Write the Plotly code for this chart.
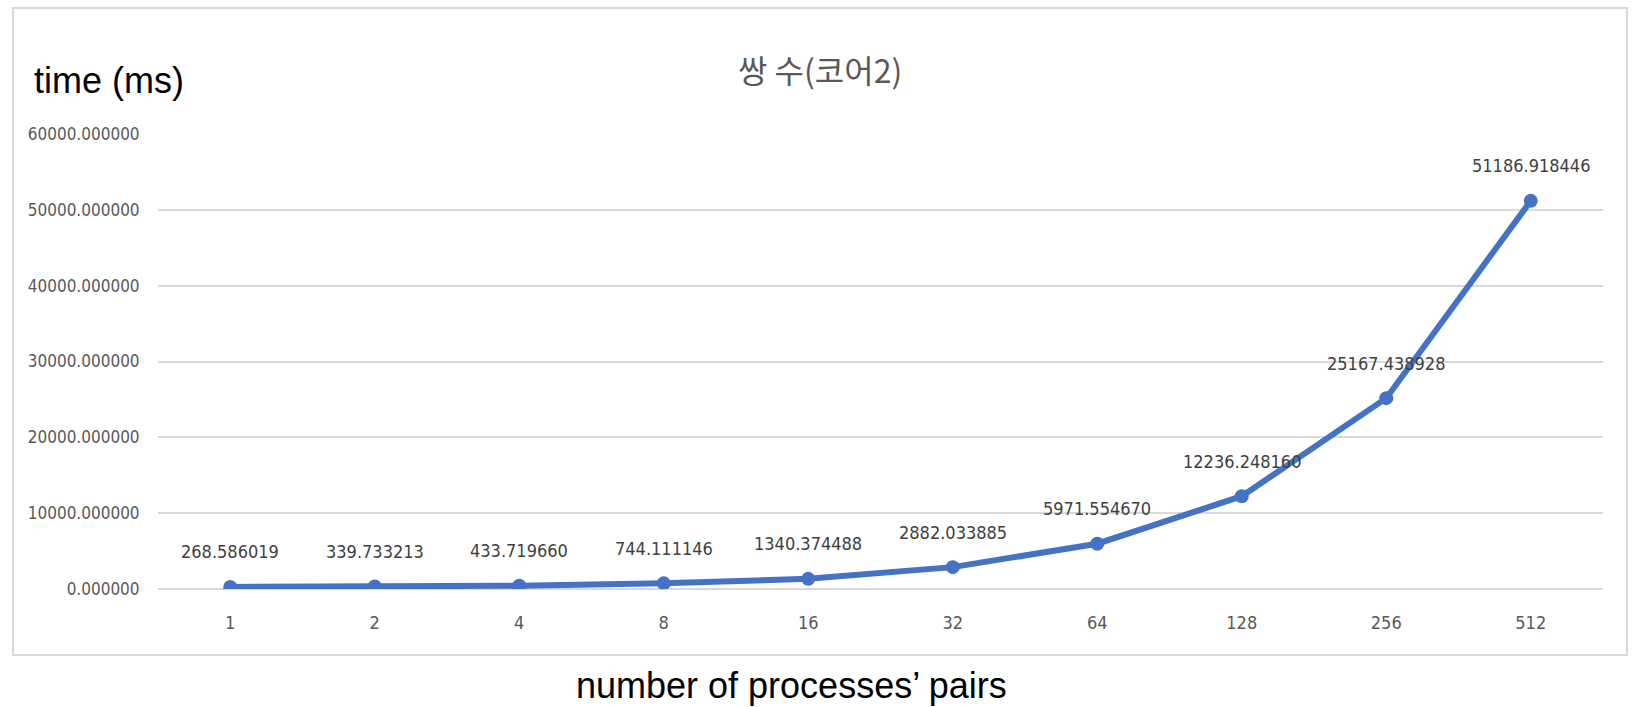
import plotly.graph_objects as go

# Measured run times per number of process pairs
pairs = ["1", "2", "4", "8", "16", "32", "64", "128", "256", "512"]
time_ms = [268.586019, 339.733213, 433.719660, 744.111146, 1340.374488,
           2882.033885, 5971.554670, 12236.248160, 25167.438928, 51186.918446]
y_ticks = [0, 10000, 20000, 30000, 40000, 50000, 60000]

W, H = 1634, 707
L, R, T, B = 158, 1603, 134, 589  # plot area in pixels


def px(x):
    return (x - L) / (R - L)


def py(y):
    return (B - y) / (B - T)


NARROW = "Liberation Sans Narrow, DejaVu Sans Condensed, sans-serif"
ytick_font = dict(family=NARROW, size=17, color="#595959")
xtick_font = dict(family=NARROW, size=18, color="#595959")
label_font = dict(family=NARROW, size=18, color="#404040")
BLUE = "#4472C4"

fig = go.Figure()
fig.add_trace(go.Scatter(
    x=pairs, y=time_ms, mode="lines+markers",
    line=dict(color=BLUE, width=6),
    marker=dict(color=BLUE, size=14),
    showlegend=False, hoverinfo="x+y",
))

# value labels above each point (category axis positions are indices)
annotations = []
for i, v in enumerate(time_ms):
    annotations.append(dict(
        x=i, y=v, xref="x", yref="y", text=f"{v:.6f}",
        showarrow=False, yshift=35, font=label_font,
    ))

# axis titles and chart title
annotations.append(dict(
    x=px(32), y=py(80), xref="paper", yref="paper", text="time (ms)",
    showarrow=False, xanchor="left", yanchor="middle",
    font=dict(family="Liberation Sans, Arial, sans-serif", size=36, color="#000000"),
))
annotations.append(dict(
    x=px(791), y=py(685), xref="paper", yref="paper",
    text="number of processes’ pairs",
    showarrow=False, xanchor="center", yanchor="middle",
    font=dict(family="Liberation Sans, Arial, sans-serif", size=36, color="#000000"),
))
annotations.append(dict(
    x=px(820), y=py(69), xref="paper", yref="paper", text="쌍 수(코어2)",
    showarrow=False, xanchor="center", yanchor="middle",
    font=dict(family="Noto Sans CJK KR, sans-serif", size=32, color="#595959"),
))

fig.update_layout(
    width=W, height=H,
    margin=dict(l=L, r=W - R, t=T, b=H - B, pad=0, autoexpand=False),
    paper_bgcolor="white", plot_bgcolor="white",
    annotations=annotations,
    shapes=[dict(
        type="rect", xref="paper", yref="paper",
        x0=px(13), x1=px(1627), y0=py(655), y1=py(8),
        line=dict(color="#d9d9d9", width=2), fillcolor="rgba(0,0,0,0)",
        layer="below",
    )],
)
fig.update_xaxes(
    type="category", range=[-0.5, len(pairs) - 0.5], automargin=False,
    showgrid=False, showline=False, zeroline=False,
    ticks="outside", ticklen=17, tickcolor="rgba(0,0,0,0)",
    tickfont=xtick_font,
)
fig.update_yaxes(
    range=[0, 60000], tickvals=y_ticks, automargin=False,
    ticktext=[f"{v:.6f}" for v in y_ticks],
    showgrid=True, gridcolor="#d9d9d9", gridwidth=2,
    zeroline=True, zerolinecolor="#d9d9d9", zerolinewidth=2,
    showline=False,
    ticks="outside", ticklen=14, tickcolor="rgba(0,0,0,0)",
    tickfont=ytick_font,
)

fig.write_html("out.html")
